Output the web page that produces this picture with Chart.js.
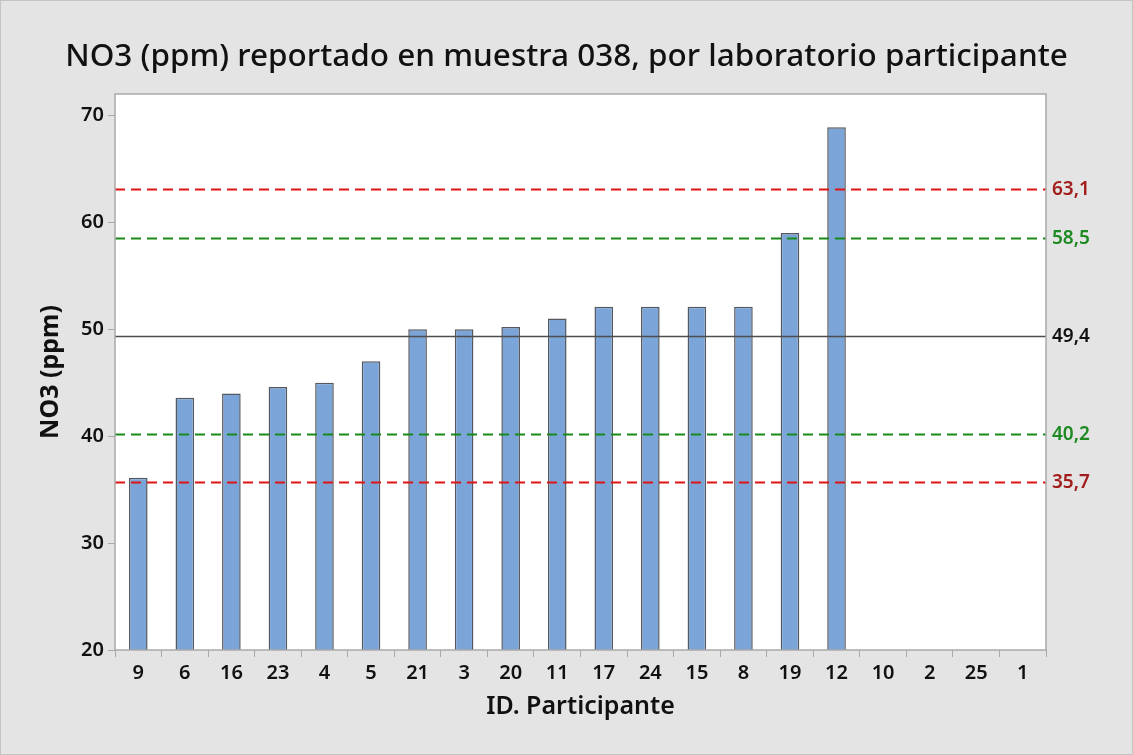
<!DOCTYPE html>
<html>
<head>
<meta charset="utf-8">
<script src="https://cdn.jsdelivr.net/npm/chart.js@4/dist/chart.umd.min.js"></script>
<style>
  html, body { margin: 0; padding: 0; background: #e4e4e4; }
  #wrap { width: 1133px; height: 755px; position: relative; box-sizing: border-box; border: 1px solid #c4c4c4; }
</style>
</head>
<body>
<div id="wrap"><canvas id="no3Chart"></canvas></div>
<script>
const participants = ['9', '6', '16', '23', '4', '5', '21', '3', '20', '11', '17', '24', '15', '8', '19', '12', '10', '2', '25', '1'];
const no3Values = [36.1, 43.6, 44.0, 44.6, 45.0, 47.0, 50.0, 50.0, 50.2, 51.0, 52.1, 52.1, 52.1, 52.1, 59.0, 68.9, null, null, null, null];
const yTicks = [20, 30, 40, 50, 60, 70];

// limits: outer (red), inner (green), assigned value (black)
const refValues = [63.1, 58.5, 49.4, 40.2, 35.7];
const refKinds = ['outer', 'inner', 'mean', 'inner', 'outer'];

const lineStyle = {
  outer: { color: '#e01414', label: '#a31c1c', dash: [10, 6], width: 2 },
  inner: { color: '#16891a', label: '#1d8a22', dash: [10, 6], width: 2 },
  mean:  { color: '#4d4d4d', label: '#111111', dash: [], width: 1.5 }
};

const plotFrame = {
  id: 'plotFrame',
  beforeDraw(chart) {
    const { ctx, chartArea: a } = chart;
    ctx.save();
    ctx.fillStyle = '#ffffff';
    ctx.fillRect(a.left, a.top, a.right - a.left, a.bottom - a.top);
    ctx.restore();
  },
  afterDatasetsDraw(chart) {
    const { ctx, chartArea: a } = chart;
    const y = chart.scales.y;
    ctx.save();
    refValues.forEach((v, i) => {
      const st = lineStyle[refKinds[i]];
      const py = Math.round(y.getPixelForValue(v)) + 0.5;
      ctx.beginPath();
      ctx.setLineDash(st.dash);
      ctx.lineWidth = st.width;
      ctx.strokeStyle = st.color;
      ctx.moveTo(a.left, py);
      ctx.lineTo(a.right, py);
      ctx.stroke();
      ctx.setLineDash([]);
      ctx.fillStyle = st.label;
      ctx.font = '600 19px "Noto Sans"';
      ctx.textBaseline = 'middle';
      ctx.textAlign = 'left';
      ctx.fillText(v.toFixed(1).replace('.', ','), a.right + 6, py);
    });
    ctx.lineWidth = 1.5;
    ctx.strokeStyle = '#a9a9a9';
    ctx.strokeRect(a.left, a.top, a.right - a.left, a.bottom - a.top);
    ctx.restore();
  }
};

new Chart(document.getElementById('no3Chart'), {
  type: 'bar',
  data: {
    labels: participants,
    datasets: [{
      label: 'NO3 (ppm)',
      data: no3Values,
      backgroundColor: '#7ba5d8',
      borderColor: '#55585e',
      borderWidth: 1.5,
      categoryPercentage: 1,
      barPercentage: 0.4
    }]
  },
  options: {
    responsive: true,
    maintainAspectRatio: false,
    animation: false,
    layout: { padding: { left: 0, right: 0, top: 0, bottom: 30 } },
    plugins: {
      legend: { display: false },
      tooltip: { enabled: false },
      title: {
        display: true,
        text: 'NO3 (ppm) reportado en muestra 038, por laboratorio participante',
        color: '#111',
        font: { family: 'Noto Sans', size: 31.5, weight: '500', lineHeight: 1 },
        padding: { top: 40, bottom: 21.5 }
      }
    },
    scales: {
      x: {
        grid: { display: true, drawOnChartArea: false, tickLength: 7, color: '#a9a9a9' },
        border: { display: false },
        ticks: { color: '#111', padding: 4, font: { family: 'Noto Sans', size: 20, weight: '600' }, maxRotation: 0 },
        title: {
          display: true,
          text: 'ID. Participante',
          color: '#111',
          font: { family: 'Noto Sans', size: 25, weight: '600' },
          padding: { top: 0, bottom: 2 }
        },
        afterFit(scale) { scale.height = 74; }
      },
      y: {
        min: 20,
        max: 72,
        grid: { display: true, drawOnChartArea: false, tickLength: 7, color: '#a9a9a9' },
        border: { display: false },
        ticks: { color: '#111', padding: 4, font: { family: 'Noto Sans', size: 20, weight: '600' } },
        afterBuildTicks(scale) { scale.ticks = yTicks.map(v => ({ value: v })); },
        title: {
          display: true,
          text: 'NO3 (ppm)',
          color: '#111',
          font: { family: 'Noto Sans', size: 25, weight: 'bold' },
          padding: { top: 35, bottom: 0 }
        },
        afterFit(scale) { scale.width = 114; }
      },
      // empty right-hand strip that holds the limit labels
      yLabels: {
        type: 'linear',
        position: 'right',
        min: 20,
        max: 72,
        grid: { display: false },
        border: { display: false },
        ticks: { display: false },
        afterFit(scale) { scale.width = 86; }
      }
    }
  },
  plugins: [plotFrame]
});
</script>
</body>
</html>
